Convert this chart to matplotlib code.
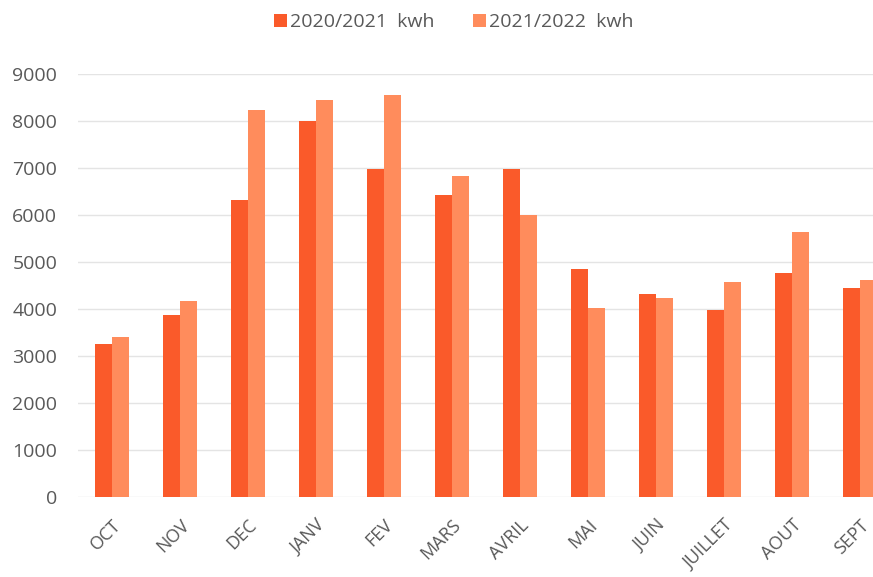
import matplotlib
matplotlib.use("Agg")
import matplotlib.pyplot as plt
import numpy as np

months = ["OCT", "NOV", "DEC", "JANV", "FEV", "MARS", "AVRIL", "MAI", "JUIN", "JUILLET", "AOUT", "SEPT"]
kwh_2020_2021 = [3250, 3860, 6320, 7990, 6980, 6410, 6980, 4850, 4320, 3980, 4750, 4440]
kwh_2021_2022 = [3390, 4160, 8220, 8430, 8540, 6820, 5990, 4020, 4230, 4570, 5630, 4610]
series_labels = ["2020/2021  kwh", "2021/2022  kwh"]
yticks = [0, 1000, 2000, 3000, 4000, 5000, 6000, 7000, 8000, 9000]

plt.rcParams['font.family'] = ['Open Sans', 'DejaVu Sans']

fig = plt.figure(figsize=(8.73, 5.77), dpi=100)
ax = fig.add_axes([0.0893, 0.139, 0.935, 0.7335])

x = np.arange(len(months))
w = 0.25
c1 = "#FA5A2A"
c2 = "#FF8C5C"
ax.bar(x - w / 2, kwh_2020_2021, width=w, color=c1, label=series_labels[0], zorder=3)
ax.bar(x + w / 2, kwh_2021_2022, width=w, color=c2, label=series_labels[1], zorder=3)

ax.set_xlim(-0.5, len(months) - 0.5)
ax.set_ylim(0, 9000)
ax.set_yticks(yticks)
ax.set_yticklabels([str(v) for v in yticks], fontsize=14, color="#595959")
ax.set_xticks(x)
ax.set_xticklabels(months, rotation=45, ha="right", rotation_mode="anchor",
                   fontsize=13, color="#595959")
ax.tick_params(axis="both", length=0)
ax.tick_params(axis="y", pad=15)
ax.tick_params(axis="x", pad=14)
ax.yaxis.grid(True, color="#E4E4E4", linewidth=1, zorder=0)
for s in ax.spines.values():
    s.set_visible(False)

fig.legend(loc="center", bbox_to_anchor=(0.52, 0.962), ncol=2, frameon=False,
           fontsize=14, handlelength=0.65, handleheight=0.65, handletextpad=0.15,
           columnspacing=2.0, labelcolor="#595959")

fig.savefig("out.png", dpi=100, facecolor="white")
